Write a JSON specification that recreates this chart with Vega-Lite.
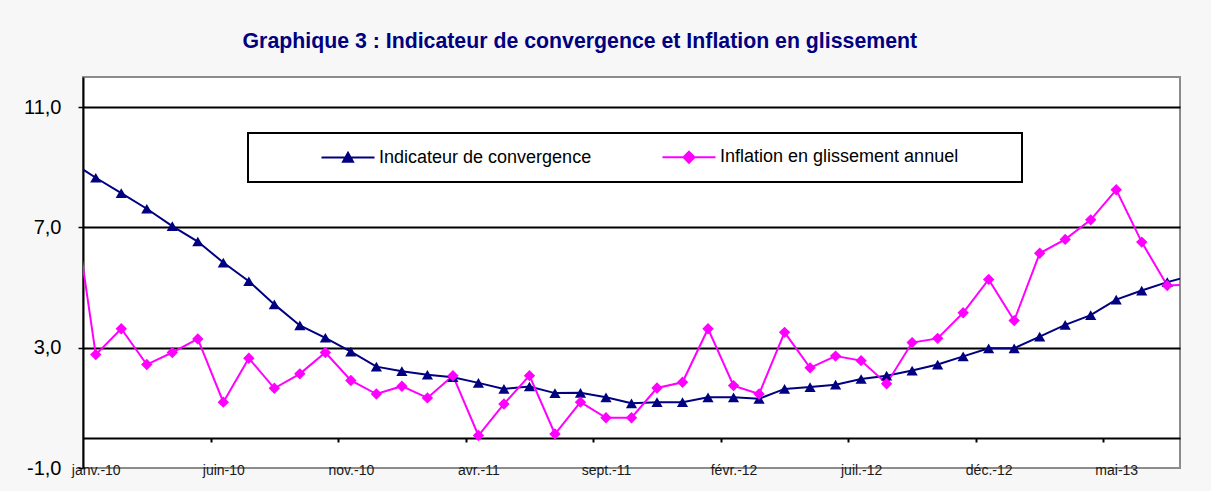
{
  "$schema": "https://vega.github.io/schema/vega-lite/v6.json",
  "width": 1097,
  "height": 391,
  "autosize": {"type": "none"},
  "padding": {"left": 83, "top": 77, "right": 31, "bottom": 23},
  "background": "#f7f7f7",
  "config": {
    "locale": {"number": {"decimal": ",", "thousands": " ", "grouping": [3], "currency": ["", " €"], "minus": "-"}},
    "view": {"stroke": "#8c8c8c", "strokeWidth": 2, "fill": "white"},
    "font": "Liberation Sans"
  },
  "title": {
    "text": "Graphique 3 : Indicateur de convergence et Inflation en glissement",
    "anchor": "start",
    "dx": 219,
    "offset": 8,
    "baseline": "alphabetic",
    "font": "Liberation Sans",
    "fontSize": 21.3,
    "fontWeight": "bold",
    "color": "#000080"
  },
  "data": {
    "values": [
      {"mois": "déc.-09", "n": -1, "Indicateur de convergence": 9.2, "Inflation en glissement annuel": 8.6},
      {"mois": "janv.-10", "n": 0, "Indicateur de convergence": 8.65, "Inflation en glissement annuel": 2.77},
      {"mois": "févr.-10", "n": 1, "Indicateur de convergence": 8.14, "Inflation en glissement annuel": 3.63},
      {"mois": "mars-10", "n": 2, "Indicateur de convergence": 7.62, "Inflation en glissement annuel": 2.44},
      {"mois": "avr.-10", "n": 3, "Indicateur de convergence": 7.04, "Inflation en glissement annuel": 2.84},
      {"mois": "mai-10", "n": 4, "Indicateur de convergence": 6.53, "Inflation en glissement annuel": 3.29},
      {"mois": "juin-10", "n": 5, "Indicateur de convergence": 5.83, "Inflation en glissement annuel": 1.19},
      {"mois": "juil.-10", "n": 6, "Indicateur de convergence": 5.21, "Inflation en glissement annuel": 2.65},
      {"mois": "août-10", "n": 7, "Indicateur de convergence": 4.44, "Inflation en glissement annuel": 1.65},
      {"mois": "sept.-10", "n": 8, "Indicateur de convergence": 3.74, "Inflation en glissement annuel": 2.13},
      {"mois": "oct.-10", "n": 9, "Indicateur de convergence": 3.33, "Inflation en glissement annuel": 2.84},
      {"mois": "nov.-10", "n": 10, "Indicateur de convergence": 2.87, "Inflation en glissement annuel": 1.91},
      {"mois": "déc.-10", "n": 11, "Indicateur de convergence": 2.37, "Inflation en glissement annuel": 1.46},
      {"mois": "janv.-11", "n": 12, "Indicateur de convergence": 2.22, "Inflation en glissement annuel": 1.72},
      {"mois": "févr.-11", "n": 13, "Indicateur de convergence": 2.10, "Inflation en glissement annuel": 1.33},
      {"mois": "mars-11", "n": 14, "Indicateur de convergence": 2.02, "Inflation en glissement annuel": 2.07},
      {"mois": "avr.-11", "n": 15, "Indicateur de convergence": 1.83, "Inflation en glissement annuel": 0.08},
      {"mois": "mai-11", "n": 16, "Indicateur de convergence": 1.63, "Inflation en glissement annuel": 1.13},
      {"mois": "juin-11", "n": 17, "Indicateur de convergence": 1.71, "Inflation en glissement annuel": 2.07},
      {"mois": "juil.-11", "n": 18, "Indicateur de convergence": 1.49, "Inflation en glissement annuel": 0.13},
      {"mois": "août-11", "n": 19, "Indicateur de convergence": 1.50, "Inflation en glissement annuel": 1.19},
      {"mois": "sept.-11", "n": 20, "Indicateur de convergence": 1.35, "Inflation en glissement annuel": 0.67},
      {"mois": "oct.-11", "n": 21, "Indicateur de convergence": 1.15, "Inflation en glissement annuel": 0.67},
      {"mois": "nov.-11", "n": 22, "Indicateur de convergence": 1.19, "Inflation en glissement annuel": 1.66},
      {"mois": "déc.-11", "n": 23, "Indicateur de convergence": 1.19, "Inflation en glissement annuel": 1.85},
      {"mois": "janv.-12", "n": 24, "Indicateur de convergence": 1.35, "Inflation en glissement annuel": 3.63},
      {"mois": "févr.-12", "n": 25, "Indicateur de convergence": 1.35, "Inflation en glissement annuel": 1.74},
      {"mois": "mars-12", "n": 26, "Indicateur de convergence": 1.30, "Inflation en glissement annuel": 1.46},
      {"mois": "avr.-12", "n": 27, "Indicateur de convergence": 1.63, "Inflation en glissement annuel": 3.51},
      {"mois": "mai-12", "n": 28, "Indicateur de convergence": 1.69, "Inflation en glissement annuel": 2.33},
      {"mois": "juin-12", "n": 29, "Indicateur de convergence": 1.77, "Inflation en glissement annuel": 2.72},
      {"mois": "juil.-12", "n": 30, "Indicateur de convergence": 1.96, "Inflation en glissement annuel": 2.57},
      {"mois": "août-12", "n": 31, "Indicateur de convergence": 2.07, "Inflation en glissement annuel": 1.80},
      {"mois": "sept.-12", "n": 32, "Indicateur de convergence": 2.24, "Inflation en glissement annuel": 3.17},
      {"mois": "oct.-12", "n": 33, "Indicateur de convergence": 2.44, "Inflation en glissement annuel": 3.31},
      {"mois": "nov.-12", "n": 34, "Indicateur de convergence": 2.71, "Inflation en glissement annuel": 4.16},
      {"mois": "déc.-12", "n": 35, "Indicateur de convergence": 2.98, "Inflation en glissement annuel": 5.27},
      {"mois": "janv.-13", "n": 36, "Indicateur de convergence": 2.98, "Inflation en glissement annuel": 3.90},
      {"mois": "févr.-13", "n": 37, "Indicateur de convergence": 3.37, "Inflation en glissement annuel": 6.14},
      {"mois": "mars-13", "n": 38, "Indicateur de convergence": 3.76, "Inflation en glissement annuel": 6.60},
      {"mois": "avr.-13", "n": 39, "Indicateur de convergence": 4.08, "Inflation en glissement annuel": 7.25},
      {"mois": "mai-13", "n": 40, "Indicateur de convergence": 4.60, "Inflation en glissement annuel": 8.25},
      {"mois": "juin-13", "n": 41, "Indicateur de convergence": 4.90, "Inflation en glissement annuel": 6.51},
      {"mois": "juil.-13", "n": 42, "Indicateur de convergence": 5.18, "Inflation en glissement annuel": 5.07},
      {"mois": "août-13", "n": 43, "Indicateur de convergence": 5.41, "Inflation en glissement annuel": 5.10}
    ]
  },
  "transform": [
    {"fold": ["Indicateur de convergence", "Inflation en glissement annuel"], "as": ["serie", "valeur"]}
  ],
  "encoding": {
    "y": {
      "field": "valeur",
      "type": "quantitative",
      "scale": {"domain": [-1, 12], "nice": false, "zero": false},
      "axis": {
        "values": [-1, 0, 3, 7, 11],
        "format": ".1f",
        "title": null,
        "grid": true,
        "gridColor": "black",
        "gridWidth": 2,
        "gridOpacity": {"condition": {"test": "datum.value === -1", "value": 0}, "value": 1},
        "labelOpacity": {"condition": {"test": "datum.value === 0", "value": 0}, "value": 1},
        "tickOpacity": {"condition": {"test": "datum.value === 0", "value": 0}, "value": 1},
        "domainColor": "black",
        "domainWidth": 2,
        "tickColor": "black",
        "tickSize": 5,
        "tickWidth": 1.5,
        "labelFont": "Liberation Sans",
        "labelFontSize": 20,
        "labelColor": "black",
        "labelPadding": 17,
        "labelFlush": false,
        "labelOverlap": false
      }
    },
    "color": {
      "field": "serie",
      "type": "nominal",
      "scale": {"domain": ["Indicateur de convergence", "Inflation en glissement annuel"], "range": ["#000080", "#ff00ff"]},
      "legend": {
        "title": null,
        "orient": "none",
        "legendX": 165,
        "legendY": 56,
        "direction": "horizontal",
        "fillColor": "white",
        "strokeColor": "black",
        "padding": 15,
        "symbolSize": 100,
        "symbolStrokeWidth": 2,
        "symbolOffset": 76,
        "labelOffset": 22,
        "columnPadding": 12,
        "labelFont": "Liberation Sans",
        "labelFontSize": 18,
        "labelColor": "black",
        "labelLimit": 400,
        "encode": {
          "legend": {"update": {"strokeWidth": {"value": 2}}},
          "symbols": {
            "update": {
              "shape": {"signal": "datum.value === 'Indicateur de convergence' ? 'M-5.3,0L5.3,0M0,-0.95L1,0.85L-1,0.85Z' : 'M-5.3,0L5.3,0M0,-1.1L1.1,0L0,1.1L-1.1,0ZM62.7,0'"},
              "fill": {"signal": "datum.value === 'Indicateur de convergence' ? '#000080' : '#ff00ff'"},
              "stroke": {"signal": "datum.value === 'Indicateur de convergence' ? '#000080' : '#ff00ff'"},
              "opacity": {"value": 1}
            }
          }
        }
      }
    }
  },
  "layer": [
    {
      "mark": {"type": "line", "clip": true, "strokeWidth": 2},
      "encoding": {
        "x": {
          "field": "n",
          "type": "quantitative",
          "scale": {"domain": [-0.5, 42.5], "nice": false, "zero": false},
          "axis": {
            "values": [0, 5, 10, 15, 20, 25, 30, 35, 40],
            "labelExpr": "['janv.','févr.','mars','avr.','mai','juin','juil.','août','sept.','oct.','nov.','déc.'][datum.value % 12] + '-' + (10 + floor(datum.value / 12))",
            "title": null,
            "orient": "bottom",
            "grid": false,
            "ticks": false,
            "tickSize": 0,
            "domain": false,
            "labelFont": "Liberation Sans",
            "labelFontSize": 14,
            "labelColor": "#1a1a1a",
            "labelBaseline": "alphabetic",
            "labelPadding": 6,
            "labelFlush": false,
            "labelOverlap": false
          }
        }
      }
    },
    {
      "transform": [{"filter": "datum.n >= 0 && datum.n <= 42 && datum.serie === 'Indicateur de convergence'"}],
      "mark": {"type": "point", "shape": "triangle-up", "filled": true, "opacity": 1, "size": 125, "clip": true},
      "encoding": {
        "x": {
          "field": "n",
          "type": "quantitative",
          "axis": {
            "values": [4.5, 9.5, 14.5, 19.5, 24.5, 29.5, 34.5, 39.5],
            "orient": "bottom",
            "labels": false,
            "title": null,
            "grid": false,
            "domain": false,
            "ticks": true,
            "tickSize": 4,
            "tickWidth": 2,
            "tickColor": "black",
            "offset": -30
          }
        }
      }
    },
    {
      "transform": [{"filter": "datum.n >= 0 && datum.n <= 42 && datum.serie === 'Inflation en glissement annuel'"}],
      "mark": {"type": "point", "shape": "diamond", "filled": true, "opacity": 1, "size": 130, "clip": true},
      "encoding": {
        "x": {"field": "n", "type": "quantitative", "axis": null}
      }
    }
  ],
  "resolve": {"axis": {"x": "independent"}}
}
